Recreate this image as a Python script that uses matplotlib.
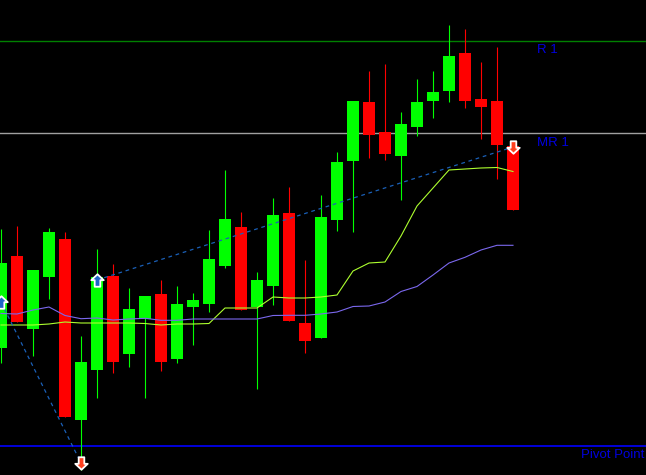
import numpy as np
import matplotlib.pyplot as plt
from matplotlib.path import Path

# candle data (chart price units), oldest -> newest
opens = [127.3, 219, 146.3, 198.3, 236, 55.3, 105.3, 199, 121.3, 156, 181, 116.3, 168.3, 171.3,
         209.3, 248, 168.3, 189.3, 262, 152, 137.3, 255.3, 314.3, 373, 343, 319.3, 348.3, 374.3,
         384.3, 422, 376, 374, 329]
closes = [212, 153.3, 205, 243, 58.3, 113, 198, 113.3, 166, 179, 113.3, 171, 175, 216,
          256, 165.3, 195, 260, 154.3, 134.3, 258, 313, 374, 340.3, 321.3, 351, 373, 383,
          419, 374.3, 368.3, 330.3, 265.3]
highs = [246, 249, 205, 247, 243, 139, 226, 211, 187, 179, 195, 189, 182, 245,
         305, 263, 203, 277, 288, 215, 280, 323, 374, 404, 411, 363, 396, 404,
         450, 446, 413, 428, 334]
lows = [112.3, 153.3, 119.3, 176.3, 58.3, 5, 77.3, 102.3, 108.3, 77.3, 104.3, 112.3, 130.3, 163.3,
        207.3, 165.3, 85.7, 170.3, 154.3, 122.3, 137.3, 244.3, 243.3, 317.3, 315.3, 275.3, 339.3, 357.3,
        373.3, 367.3, 336.3, 296.3, 265.3]

ma_fast = [150, 150, 150, 151, 153, 152, 152, 152, 152, 151.5, 150, 151, 151, 151.5,
           167, 167, 167, 178, 177, 177, 178, 180, 204, 212, 213, 239, 269, 287,
           305, 306, 307, 307.5, 303.5]
ma_slow = [161.5, 161, 165, 168, 159.5, 156.3, 157, 155, 156, 156.7, 154.7, 154.7, 156, 156,
           156, 156, 156, 159.5, 159.7, 159.7, 161, 163, 168.5, 169, 173, 183.5, 188.5, 200,
           212, 217.7, 225, 229.7, 229.7]

levels = {'R 1': 434.5, 'MR 1': 341.7, 'Pivot Point': 29.3}

# signal arrows: (bar index, price)
buy_signals = [(0, 173), (6, 195)]
sell_signals = [(5, 12), (32, 328)]

x = np.arange(len(opens))
o, c, h, l = map(np.array, (opens, closes, highs, lows))
up = c >= o
cols = np.where(up, '#00ff00', '#ff0000')

fig = plt.figure(figsize=(6.46, 4.75), dpi=100, facecolor='black')
ax = fig.add_axes([0, 0, 1, 1])
ax.set_facecolor('black')
ax.set_xlim(-0.0625, 40.3125)
ax.set_ylim(0, 475)
ax.axis('off')

# pivot levels
ax.axhline(levels['R 1'], color='#008000', lw=1, zorder=1)
ax.axhline(levels['MR 1'], color='#a0a0a0', lw=1, zorder=1)
ax.axhline(levels['Pivot Point'], color='#0000ff', lw=1.2, zorder=1)
txt = dict(color='#0000dd', fontsize=9.5, family='Liberation Sans', va='top', ha='left')
ax.text(33.5, levels['R 1'] - 3.5, 'R 1', **txt)
ax.text(33.5, levels['MR 1'] - 3.5, 'MR 1', **txt)
ax.text(36.25, levels['Pivot Point'] - 3.5, 'Pivot Point', **txt)

# candles
ax.vlines(x, l, h, colors=cols, lw=0.8, zorder=2)
ax.bar(x, c - o, bottom=o, width=0.69, color=cols, zorder=3)

# moving averages
ax.plot(x, ma_fast, color='#adff2f', lw=0.8, zorder=4)
ax.plot(x, ma_slow, color='#7b68ee', lw=0.8, zorder=4)

# dotted connectors between signals
dot = dict(color='#1a60b8', lw=0.9, ls=(0, (3, 3)), zorder=4)
ax.plot([buy_signals[0][0], sell_signals[0][0]], [buy_signals[0][1], sell_signals[0][1]], **dot)
ax.plot([buy_signals[1][0], sell_signals[1][0]], [buy_signals[1][1], sell_signals[1][1]], **dot)

arrow_up = Path([(0, 1), (1, 0.05), (0.45, 0.05), (0.45, -1), (-0.45, -1), (-0.45, 0.05), (-1, 0.05), (0, 1)],
                [Path.MOVETO] + [Path.LINETO] * 6 + [Path.CLOSEPOLY])
arrow_dn = Path(arrow_up.vertices * [1, -1], arrow_up.codes)
bx, by = zip(*buy_signals)
sx, sy = zip(*sell_signals)
ax.plot(bx, by, ls='none', marker=arrow_up, ms=9, mfc='#1e64c8', mec='white', mew=1.3, zorder=5)
ax.plot(sx, sy, ls='none', marker=arrow_dn, ms=9, mfc='#ff4020', mec='white', mew=1.3, zorder=5)

fig.savefig('out.png', dpi=100, facecolor='black')
